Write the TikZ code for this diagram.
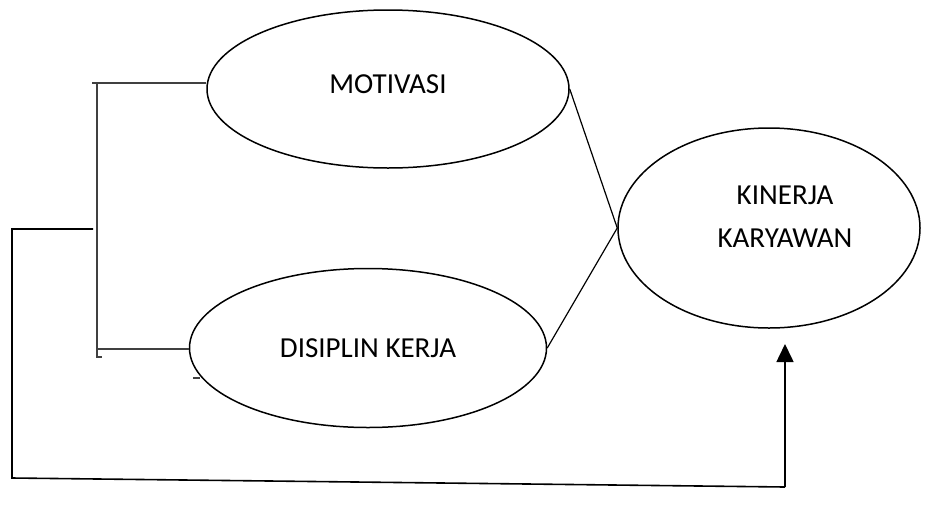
\documentclass[tikz,border=0pt]{standalone}
\usepackage{fontspec}
\setmainfont{Carlito}
\usetikzlibrary{shapes.geometric,arrows.meta}

\tikzset{
 varbox/.style={draw=black, line width=1.5pt, ellipse, inner sep=0pt},
 vartext/.style={font=\fontsize{29}{43}\selectfont},
 link/.style={draw=black, line width=1.2pt},
 brak/.style={draw=black!75, line width=1.3pt}
}

\begin{document}
\begin{tikzpicture}[x=1pt,y=-1pt]
 \path[use as bounding box] (0,0) rectangle (934,512);

\node[varbox, minimum width=362pt, minimum height=158pt] (motivasi) at (388,89) {};
\node[vartext] (motivasitxt) at (388,84) {MOTIVASI};

\node[varbox, minimum width=357pt, minimum height=159pt] (disiplin) at (368,348) {};
\node[vartext] (disiplintxt) at (368,348) {DISIPLIN KERJA};

\node[varbox, minimum width=302pt, minimum height=200pt] (kinerja) at (769,228) {};
\node[vartext, align=center] (kinerjatxt) at (785,217) {KINERJA\\KARYAWAN};

% garis ke kinerja
\draw[link] (motivasi.east) -- (kinerja.west);
\draw[link] (disiplin.east) -- (kinerja.west);

% kurung kiri
\coordinate (brtop) at (92,83);
\coordinate (brv1) at (97,83);
\coordinate (brv2) at (97,357);
\coordinate (brmid) at (97,349);
\draw[brak] (brtop) -- (motivasi.west |- brtop);
\draw[brak] (brv1) -- (brv2) -- ++(5,0);
\draw[brak] (brmid) -- (disiplin.west |- brmid);
\draw[brak] (193,378) -- ++(7,0);

% umpan balik
\coordinate (fbstart) at (93,229);
\coordinate (fbend) at (785,344);
\draw[link, line width=1.6pt] (fbstart) -- (12,229) -- (12,478) -- (785,487)
  edge[-{Triangle[width=17pt,length=18pt]}] (fbend);

\end{tikzpicture}
\end{document}
